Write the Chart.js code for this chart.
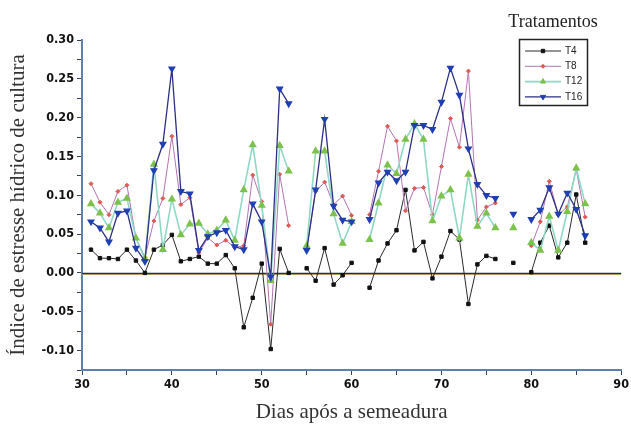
<!DOCTYPE html>
<html>
<head>
<meta charset="utf-8">
<script src="https://cdn.jsdelivr.net/npm/chart.js@4.4.0/dist/chart.umd.min.js"></script>
<style>
  html, body { margin: 0; padding: 0; background: #fff; }
  #wrap { width: 631px; height: 430px; }
</style>
</head>
<body>
<div id="wrap"><canvas id="myChart" width="631" height="430"></canvas></div>
<script>
// days after sowing (null = no reading that day)
const days = [31, 32, 33, 34, 35, 36, 37, 38, 39, 40, 41, 42, 43, 44, 45, 46, 47, 48, 49, 50,
  51, 52, 53, 54, 55, 56, 57, 58, 59, 60, 61, 62, 63, 64, 65, 66, 67, 68, 69, 70,
  71, 72, 73, 74, 75, 76, 77, 78, 79, 80, 81, 82, 83, 84, 85, 86];

const t4 = [0.030, 0.019, 0.019, 0.018, 0.030, 0.016, 0.000, 0.030, 0.036, 0.049,
  0.015, 0.018, 0.021, 0.012, 0.012, 0.023, 0.006, -0.070, -0.032, 0.012,
  -0.098, 0.031, 0.000, null, 0.006, -0.010, 0.032, -0.015, -0.003, 0.013,
  null, -0.019, 0.016, 0.038, 0.055, 0.107, 0.029, 0.040, -0.007, 0.021,
  0.054, 0.043, -0.040, 0.011, 0.022, 0.018, null, 0.013, null, 0.001,
  0.039, 0.061, 0.020, 0.039, 0.101, 0.039];

const t8 = [0.115, 0.091, 0.075, 0.105, 0.113, 0.045, 0.020, 0.067, 0.096, 0.176,
  0.088, 0.097, 0.026, 0.045, 0.036, 0.042, 0.033, 0.035, 0.126, 0.092,
  -0.066, 0.127, 0.061, null, 0.030, 0.105, 0.117, 0.088, 0.099, 0.074,
  null, 0.075, 0.131, 0.189, 0.170, 0.080, 0.109, 0.110, 0.075, 0.137,
  0.199, 0.162, 0.260, 0.068, 0.085, 0.090, null, null, null, 0.035,
  0.066, 0.118, 0.075, 0.085, 0.133, 0.072];

const t12 = [0.089, 0.077, 0.058, 0.091, 0.096, 0.045, 0.018, 0.140, 0.030, 0.095,
  0.049, 0.063, 0.064, 0.050, 0.055, 0.068, 0.042, 0.107, 0.165, 0.087,
  -0.010, 0.164, 0.131, null, 0.035, 0.157, 0.157, 0.076, 0.038, 0.066,
  null, 0.043, 0.090, 0.139, 0.128, 0.172, 0.192, 0.172, 0.067, 0.099,
  0.107, 0.045, 0.127, 0.060, 0.077, 0.058, null, 0.058, null, 0.039,
  0.029, 0.073, 0.029, 0.079, 0.135, 0.089];

const t16 = [0.066, 0.058, 0.040, 0.077, 0.080, 0.032, 0.015, 0.132, 0.166, 0.263,
  0.105, 0.102, 0.029, 0.047, 0.052, 0.055, 0.034, 0.030, 0.089, 0.066,
  -0.005, 0.237, 0.218, null, 0.029, 0.107, 0.198, 0.086, 0.068, 0.066,
  null, 0.069, 0.116, 0.130, 0.119, 0.130, 0.190, 0.190, 0.185, 0.220,
  0.264, 0.229, 0.160, 0.114, 0.100, 0.096, null, 0.076, null, 0.069,
  0.081, 0.110, 0.076, 0.103, 0.082, 0.048];

const seriesNames = ["T4", "T8", "T12", "T16"];
const yTickLabels = ["-0.10", "-0.05", "0.00", "0.05", "0.10", "0.15", "0.20", "0.25", "0.30"];
const xTickLabels = ["30", "40", "50", "60", "70", "80", "90"];

const pts = (vals) => days.map((d, i) => ({ x: d, y: vals[i] }));

const tickFont = { family: "'DejaVu Sans Condensed', 'Liberation Sans Narrow', sans-serif", size: 12.5, weight: "bold" };
const serif = "'Liberation Serif', 'DejaVu Serif', serif";

// horizontal line at y = 0
const zeroLine = {
  id: "zeroLine",
  beforeDatasetsDraw(chart) {
    const { ctx, chartArea } = chart;
    const y = Math.round(chart.scales.y.getPixelForValue(0)) + 0.5;
    ctx.save();
    ctx.strokeStyle = "#e2c25a";
    ctx.lineWidth = 1;
    ctx.beginPath();
    ctx.moveTo(chartArea.left, y + 1);
    ctx.lineTo(chartArea.right, y + 1);
    ctx.stroke();
    ctx.strokeStyle = "#1c2c68";
    ctx.lineWidth = 1.3;
    ctx.beginPath();
    ctx.moveTo(chartArea.left, y);
    ctx.lineTo(chartArea.right, y);
    ctx.stroke();
    ctx.restore();
  }
};

// boxed legend inside the plot, with the "Tratamentos" heading above it
const boxLegend = {
  id: "boxLegend",
  afterDraw(chart) {
    const { ctx } = chart;
    ctx.save();
    ctx.fillStyle = "#222";
    ctx.font = "18px " + serif;
    ctx.textAlign = "center";
    ctx.textBaseline = "alphabetic";
    ctx.fillText("Tratamentos", 553, 27);

    ctx.strokeStyle = "#222";
    ctx.lineWidth = 1.5;
    ctx.strokeRect(519.5, 39.5, 68, 66);

    ctx.font = "10px 'Liberation Sans', Arial, sans-serif";
    ctx.textAlign = "left";
    ctx.textBaseline = "middle";
    chart.data.datasets.forEach((ds, i) => {
      const y = 51 + i * 15.3;
      ctx.strokeStyle = ds.borderColor;
      ctx.lineWidth = ds.borderWidth;
      ctx.beginPath();
      ctx.moveTo(525, y);
      ctx.lineTo(561, y);
      ctx.stroke();
      ctx.fillStyle = ds.pointBackgroundColor;
      ctx.strokeStyle = ds.pointBorderColor;
      ctx.lineWidth = 1;
      Chart.helpers.drawPoint(ctx, {
        pointStyle: ds.pointStyle,
        radius: Math.min(ds.pointRadius, 3),
        rotation: ds.pointRotation || 0,
        borderWidth: 1
      }, 543, y);
      ctx.fillStyle = "#222";
      ctx.fillText(ds.label, 565, y);
    });
    ctx.restore();
  }
};

new Chart(document.getElementById("myChart"), {
  type: "line",
  data: {
    datasets: [
      {
        label: seriesNames[0],
        data: pts(t4),
        borderColor: "#2a2a2a",
        borderWidth: 1,
        pointStyle: "rect",
        pointRadius: 2.4,
        pointBackgroundColor: "#111111",
        pointBorderColor: "#111111",
        order: 3
      },
      {
        label: seriesNames[1],
        data: pts(t8),
        borderColor: "#b673b4",
        borderWidth: 1,
        pointStyle: "rectRot",
        pointRadius: 2,
        pointBackgroundColor: "#dd5a52",
        pointBorderColor: "#dd5a52",
        order: 2
      },
      {
        label: seriesNames[2],
        data: pts(t12),
        borderColor: "#8fd8c4",
        borderWidth: 1.6,
        pointStyle: "triangle",
        pointRadius: 3.2,
        pointBackgroundColor: "#7cc24c",
        pointBorderColor: "#7cc24c",
        order: 1
      },
      {
        label: seriesNames[3],
        data: pts(t16),
        borderColor: "#2b2f86",
        borderWidth: 1.3,
        pointStyle: "triangle",
        pointRotation: 180,
        pointRadius: 3.3,
        pointBackgroundColor: "#1f3fb4",
        pointBorderColor: "#1f3fb4",
        order: 0
      }
    ]
  },
  options: {
    responsive: false,
    animation: false,
    spanGaps: false,
    layout: { padding: { top: 40, right: 6, left: 0, bottom: 0 } },
    plugins: {
      legend: { display: false },
      tooltip: { enabled: false }
    },
    scales: {
      x: {
        type: "linear",
        min: 30,
        max: 90,
        afterFit: (scale) => { scale.height = 60; },
        border: { display: true, color: "#5f7fb2", width: 2 },
        grid: { drawOnChartArea: false, drawTicks: true, tickLength: 5, color: "#33406a" },
        ticks: {
          stepSize: 5,
          color: "#111",
          font: tickFont,
          padding: 2,
          maxRotation: 0,
          autoSkip: false,
          callback: (v) => xTickLabels.includes(String(v)) ? String(v) : ""
        },
        title: {
          display: true,
          text: "Dias após a semeadura",
          color: "#333",
          font: { family: serif, size: 21 },
          padding: { top: 0, bottom: 5 }
        }
      },
      y: {
        min: -0.125,
        max: 0.30,
        afterFit: (scale) => { scale.width = 82; },
        border: { display: true, color: "#5f7fb2", width: 2 },
        grid: { drawOnChartArea: false, drawTicks: true, tickLength: 5, color: "#33406a" },
        ticks: {
          stepSize: 0.025,
          color: "#111",
          font: tickFont,
          padding: 3,
          autoSkip: false,
          callback: (v) => {
            const s = (Math.round(v * 1000) / 1000).toFixed(2);
            return (Math.round(v * 1000) % 50 === 0 && yTickLabels.includes(s)) ? s : "";
          }
        },
        title: {
          display: true,
          text: "Índice de estresse hídrico de cultura",
          color: "#333",
          font: { family: serif, size: 21 },
          padding: { top: 6, bottom: 0 }
        }
      }
    }
  },
  plugins: [zeroLine, boxLegend]
});
</script>
</body>
</html>
